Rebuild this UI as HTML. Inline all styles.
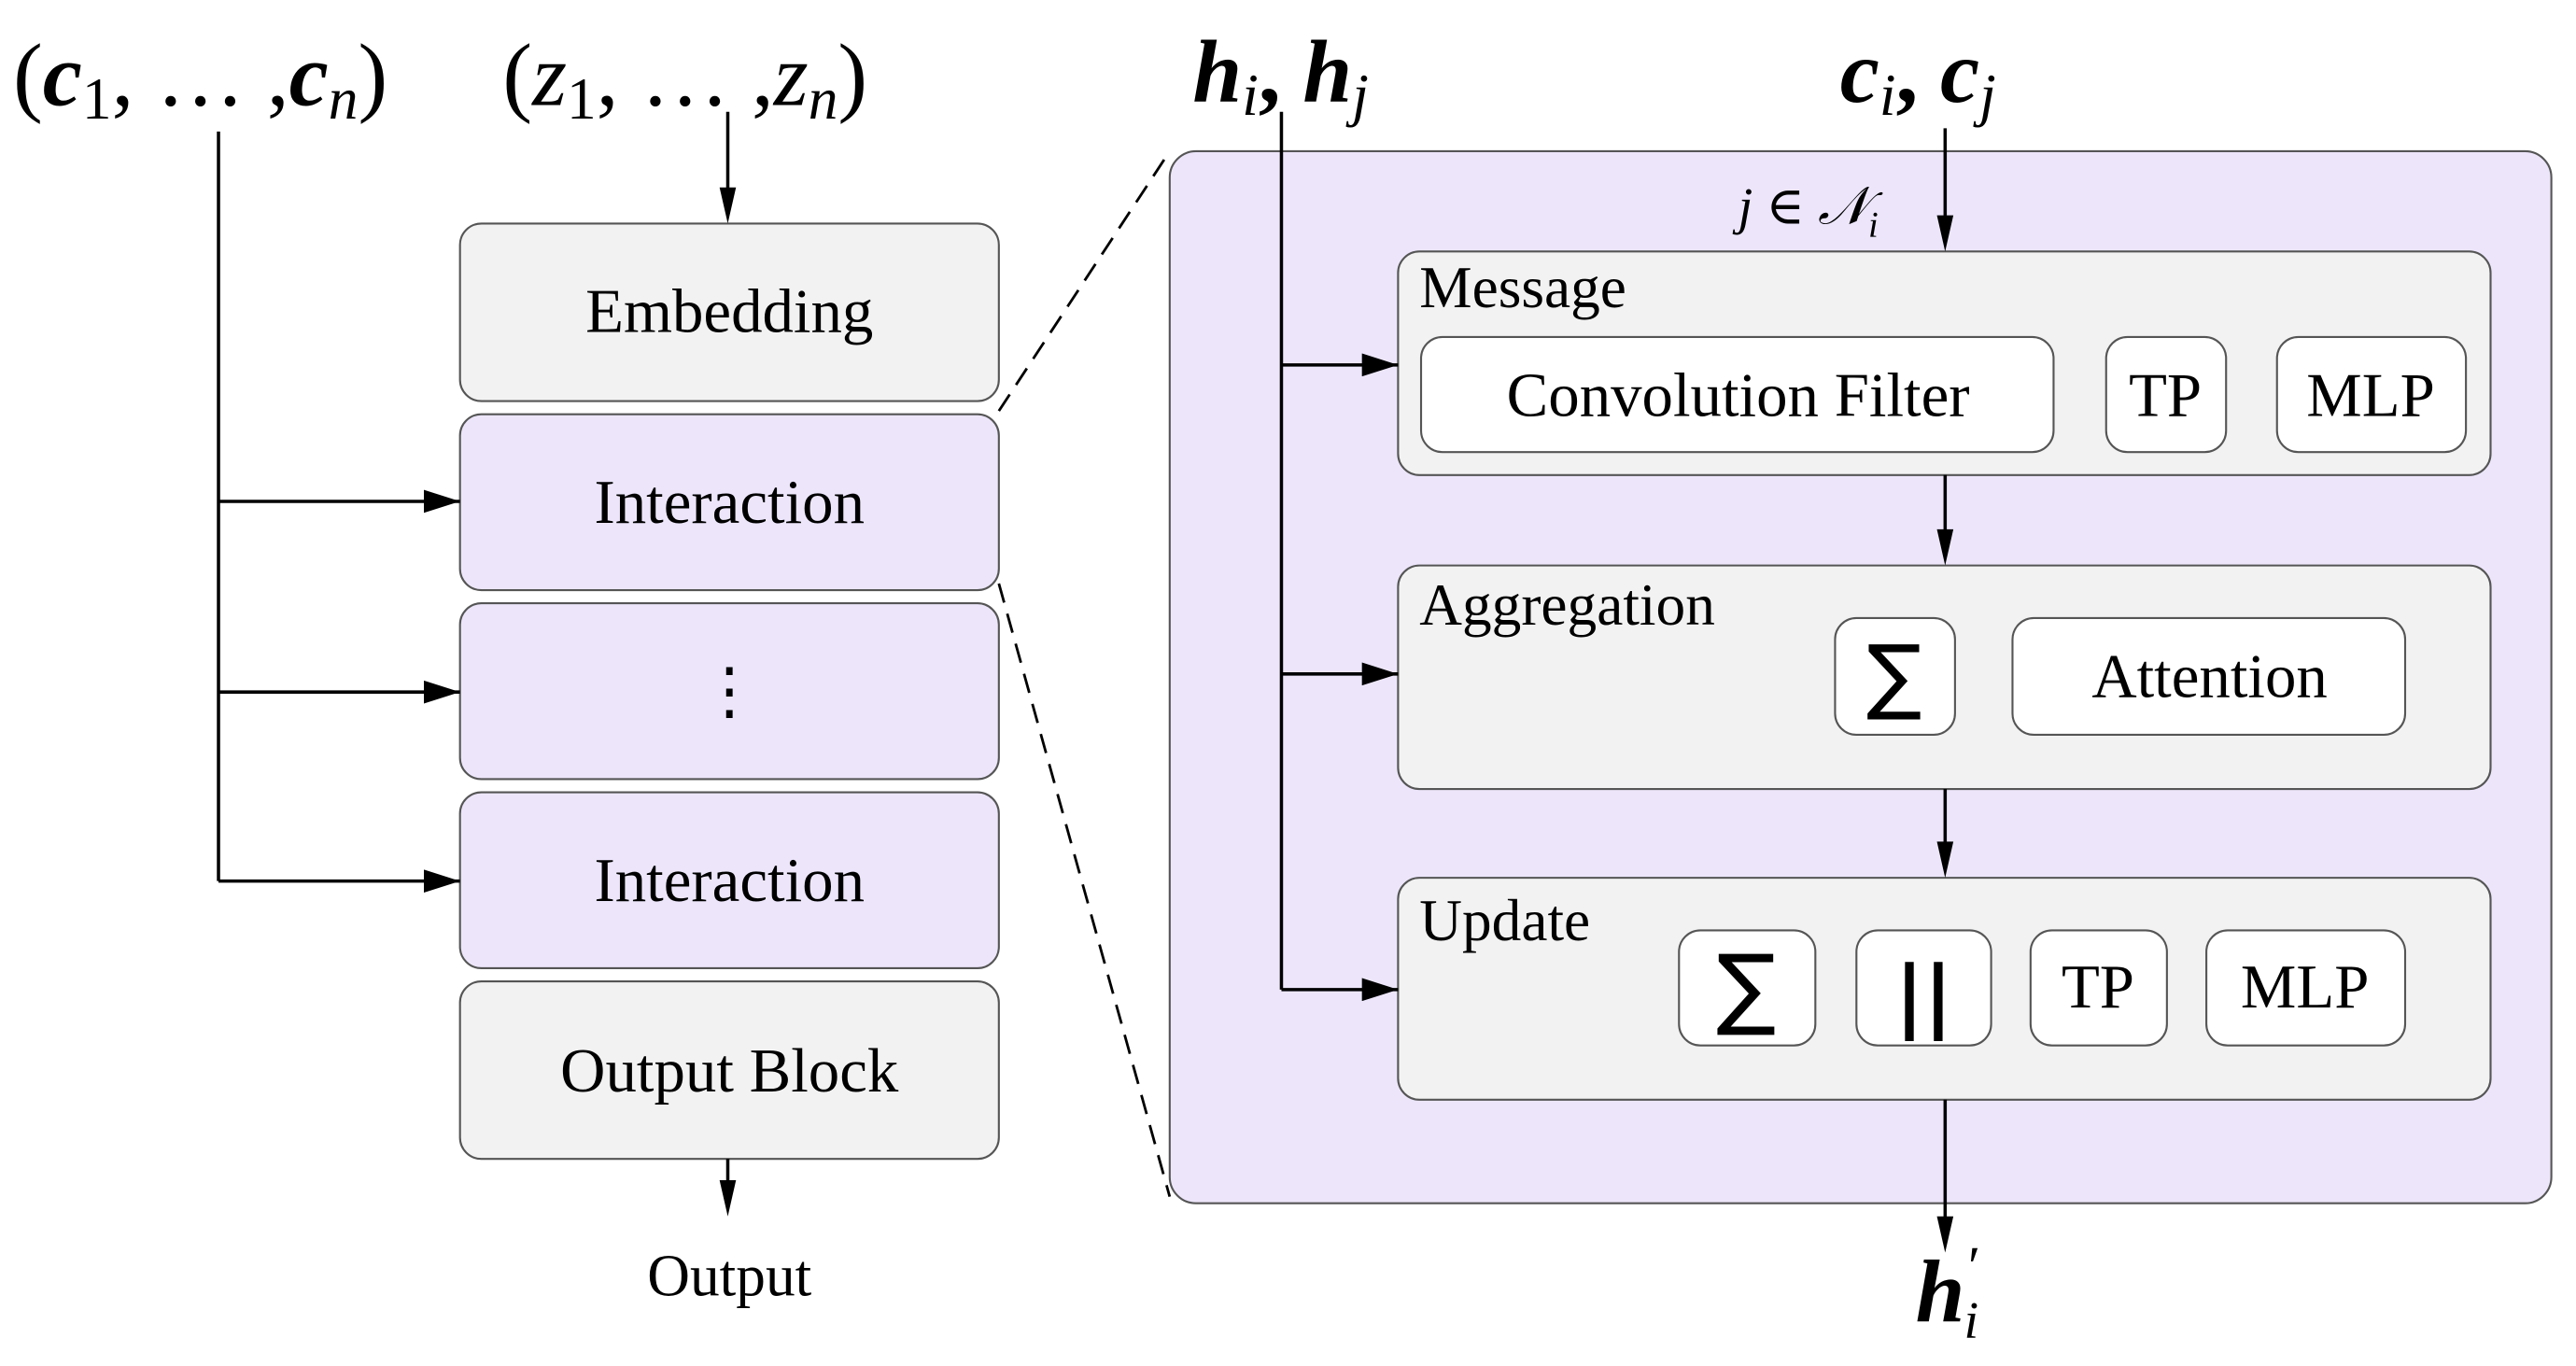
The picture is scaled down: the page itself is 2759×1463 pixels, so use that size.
<!DOCTYPE html>
<html><head><style>html,body{margin:0;padding:0;background:#fff}svg{display:block}
text{font-family:"Liberation Serif","DejaVu Serif",serif}
.s{font-family:"DejaVu Sans",sans-serif}</style></head>
<body>
<svg width="2759" height="1463" viewBox="0 0 1568 831" preserveAspectRatio="none" xmlns="http://www.w3.org/2000/svg">
<defs>
<marker id="b" markerWidth="22" markerHeight="14" refX="22" refY="7" orient="auto" markerUnits="userSpaceOnUse"><path d="M0,0L22,7L0,14z" fill="#000"/></marker></defs>
<g stroke="#555" stroke-width="1.2">
<rect x="280" y="136" width="328" height="108" rx="13" fill="#f2f2f2"/>
<rect x="280" y="252" width="328" height="107" rx="13" fill="#ede6fb"/>
<rect x="280" y="367" width="328" height="107" rx="13" fill="#ede6fb"/>
<rect x="280" y="482" width="328" height="107" rx="13" fill="#ede6fb"/>
<rect x="280" y="597" width="328" height="108" rx="13" fill="#f2f2f2"/>
<rect x="712" y="92" width="841" height="640" rx="16" fill="#ede6fb"/>
<rect x="851" y="153" width="665" height="136" rx="13" fill="#f2f2f2"/>
<rect x="851" y="344" width="665" height="136" rx="13" fill="#f2f2f2"/>
<rect x="851" y="534" width="665" height="135" rx="13" fill="#f2f2f2"/>
<g fill="#fff">
<rect x="865" y="205" width="385" height="70" rx="13"/>
<rect x="1282" y="205" width="73" height="70" rx="13"/>
<rect x="1386" y="205" width="115" height="70" rx="13"/>
<rect x="1117" y="376" width="73" height="71" rx="13"/>
<rect x="1225" y="376" width="239" height="71" rx="13"/>
<rect x="1022" y="566" width="83" height="70" rx="13"/>
<rect x="1130" y="566" width="82" height="70" rx="13"/>
<rect x="1236" y="566" width="83" height="70" rx="13"/>
<rect x="1343" y="566" width="121" height="70" rx="13"/>
</g></g>
<g stroke="#000" stroke-width="2" fill="none">
<path d="M608,250L712,92M608,355L712,728" stroke-dasharray="12,7" stroke-width="1.6"/>
<path d="M133,80V536"/>
<path d="M133,305H280" marker-end="url(#b)"/>
<path d="M133,421H280" marker-end="url(#b)"/>
<path d="M133,536H280" marker-end="url(#b)"/>
<path d="M443,68V120M443,705V725M1184,78V137M1184,289V328M1184,480V518M1184,669V746"/>
<path d="M780,68V602"/>
<path d="M780,222H851" marker-end="url(#b)"/>
<path d="M780,410H851" marker-end="url(#b)"/>
<path d="M780,602H851" marker-end="url(#b)"/>
</g>
<g fill="#000">
<polygon points="438,114 448,114 443,136"/>
<polygon points="438,718 448,718 443,740"/>
<polygon points="1179,131 1189,131 1184,153"/>
<polygon points="1179,322 1189,322 1184,344"/>
<polygon points="1179,512 1189,512 1184,534"/>
<polygon points="1179,740 1189,740 1184,762"/>
</g>
<g font-size="38" text-anchor="middle" fill="#000">
<text x="444" y="202">Embedding</text>
<text x="444" y="318">Interaction</text>
<text x="444" y="433">⋮</text>
<text x="444" y="548">Interaction</text>
<text x="444" y="664">Output Block</text>
<text x="444" y="788" font-size="36">Output</text>
<text x="1058" y="253">Convolution Filter</text>
<text x="1318" y="253">TP</text>
<text x="1443" y="253">MLP</text>
<text x="1345" y="424">Attention</text>
<text x="1277" y="613">TP</text>
<text x="1403" y="613">MLP</text>
<text x="1153" y="428" font-size="50" class="s">∑</text>
<text x="1063" y="619" font-size="54" class="s">∑</text>
<text x="1171" y="622" font-size="48" font-weight="bold" class="s">||</text>
</g>
<g font-size="36" fill="#000">
<text x="864" y="187">Message</text>
<text x="864" y="380">Aggregation</text>
<text x="864" y="572">Update</text>
<text x="1058" y="136" font-style="italic" font-size="32">j ∈ 𝒩<tspan font-size="22" dy="8">i</tspan></text>
</g>
<g font-size="54" font-weight="bold" font-style="italic" fill="#000">
<text x="8" y="64"><tspan font-style="normal" font-weight="normal">(</tspan>c<tspan font-size="36" dy="8" font-style="normal" font-weight="normal">1</tspan><tspan dy="-8" font-weight="normal" font-style="normal">, … ,</tspan>c<tspan font-size="36" dy="8" font-weight="normal">n</tspan><tspan dy="-8" font-style="normal" font-weight="normal">)</tspan></text>
<text x="306" y="64" font-weight="normal"><tspan font-style="normal">(</tspan>z<tspan font-size="36" dy="8" font-style="normal">1</tspan><tspan dy="-8" font-style="normal">, … ,</tspan>z<tspan font-size="36" dy="8">n</tspan><tspan dy="-8" font-style="normal">)</tspan></text>
<text x="726" y="62">h<tspan font-size="36" dy="8" font-weight="normal">i</tspan><tspan dy="-8" font-style="normal">, </tspan>h<tspan font-size="36" dy="8" font-weight="normal">j</tspan></text>
<text x="1120" y="62">c<tspan font-size="36" dy="8" font-weight="normal">i</tspan><tspan dy="-8" font-style="normal">, </tspan>c<tspan font-size="36" dy="8" font-weight="normal">j</tspan></text>
<text x="1166" y="804">h<tspan font-size="34" dx="2" dy="-22" font-weight="normal" font-style="normal">′</tspan><tspan font-size="32" dx="-10" dy="32" font-weight="normal">i</tspan></text>
</g>
</svg>
</body></html>
